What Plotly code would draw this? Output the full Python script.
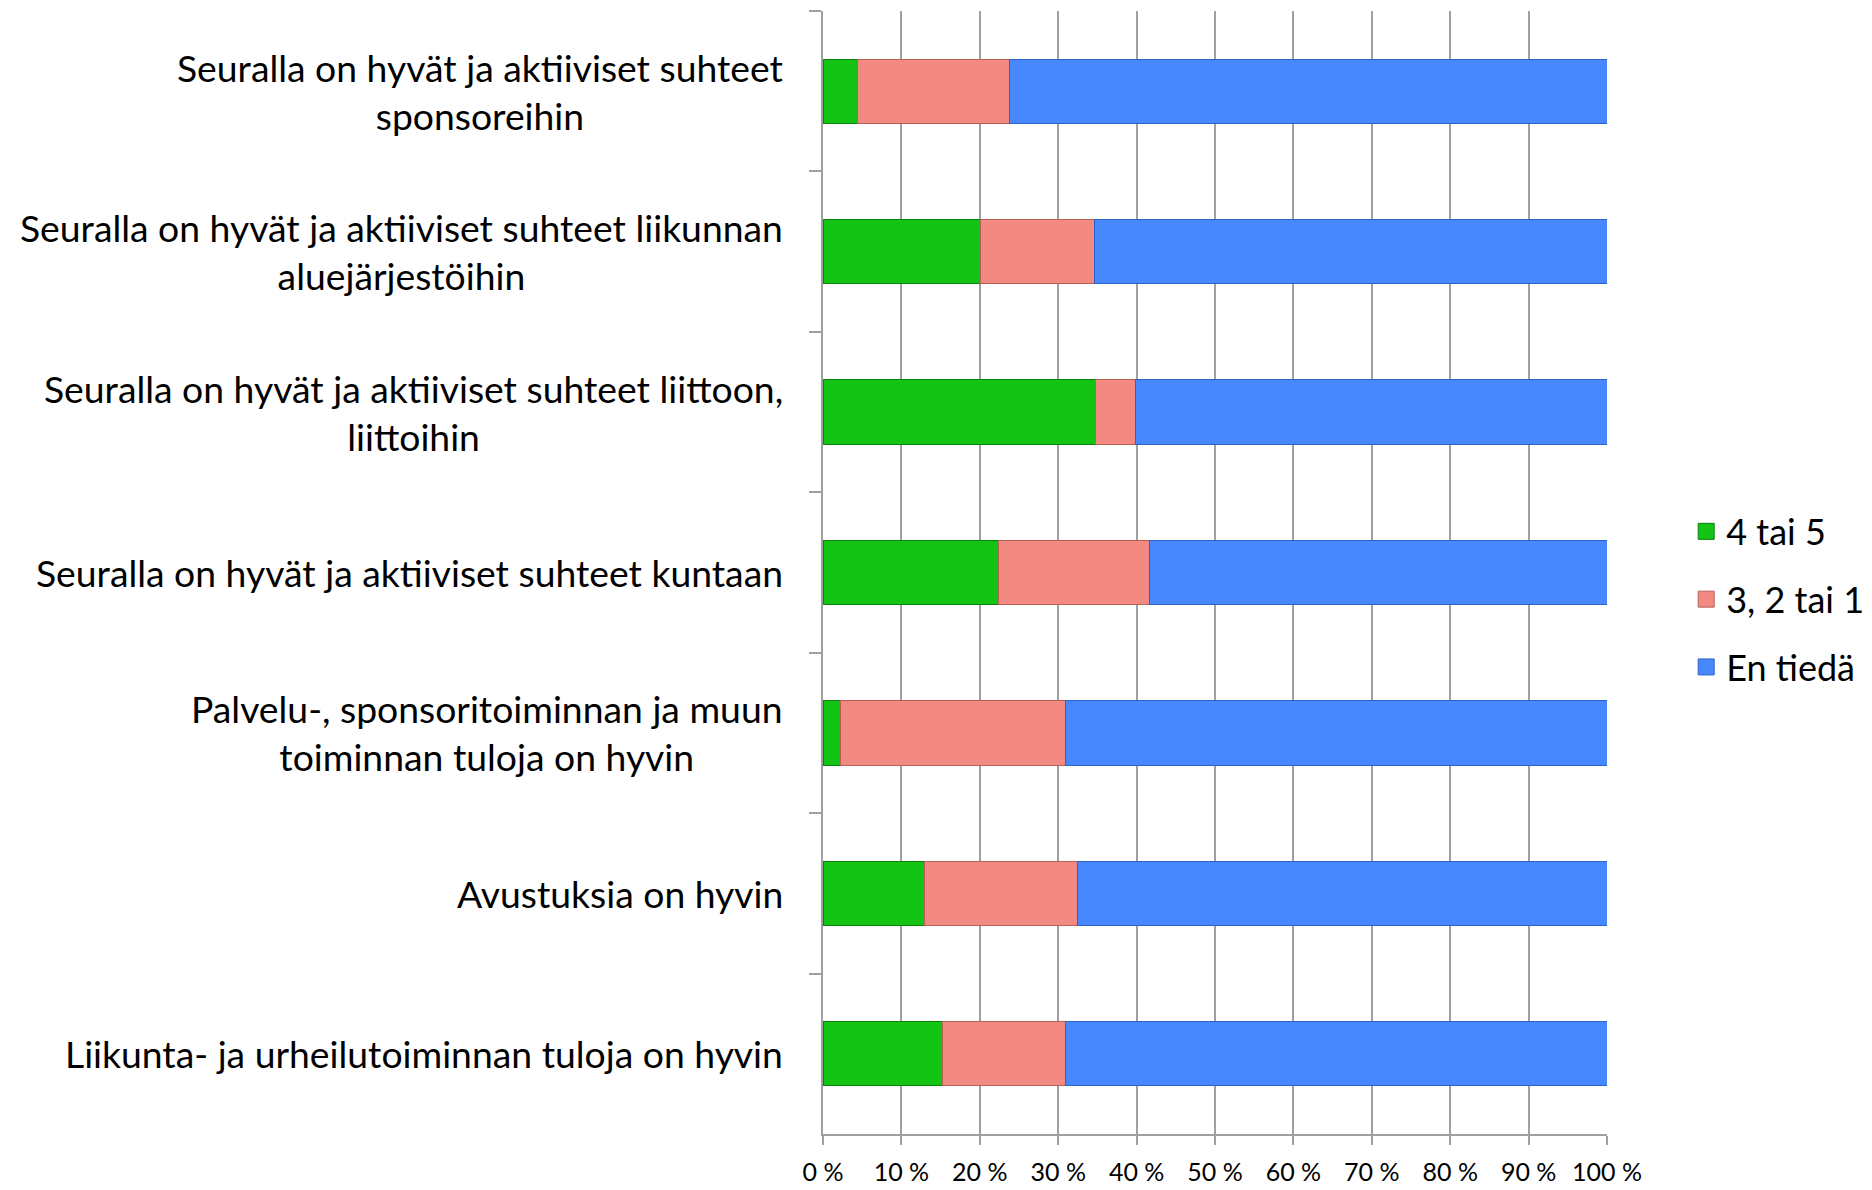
import plotly.graph_objects as go

categories = [
    "Seuralla on hyvät ja aktiiviset suhteet<br>sponsoreihin",
    "Seuralla on hyvät ja aktiiviset suhteet liikunnan<br>aluejärjestöihin",
    "Seuralla on hyvät ja aktiiviset suhteet liittoon,<br>liittoihin",
    "Seuralla on hyvät ja aktiiviset suhteet kuntaan",
    "Palvelu-, sponsoritoiminnan ja muun<br>toiminnan tuloja on hyvin",
    "Avustuksia on hyvin",
    "Liikunta- ja urheilutoiminnan tuloja on hyvin",
]
series_names = ["4 tai 5", "3, 2 tai 1", "En tiedä"]
good = [4.4, 20.1, 34.8, 22.4, 2.2, 13.0, 15.3]
weak = [19.4, 14.5, 5.0, 19.3, 28.7, 19.5, 15.6]
dont_know = [76.2, 65.4, 60.2, 58.3, 69.1, 67.5, 69.1]
x_ticks = [0, 10, 20, 30, 40, 50, 60, 70, 80, 90, 100]
x_tick_labels = ["0 %", "10 %", "20 %", "30 %", "40 %", "50 %",
                 "60 %", "70 %", "80 %", "90 %", "100 %"]

colors = ["#14C414", "#F28A82", "#4888FF"]
borders = ["#0B800B", "#B86058", "#2E62C8"]
FONT = "Lato"

fig = go.Figure()
for name, vals, c, b in zip(series_names, [good, weak, dont_know], colors, borders):
    fig.add_trace(go.Bar(
        y=categories, x=vals, orientation="h", name=name,
        marker=dict(color=c, line=dict(color=b, width=1)),
        width=0.4, showlegend=False,
    ))
    fig.add_trace(go.Scatter(
        x=[None], y=[None], mode="markers", name=name, legendgroup=name,
        marker=dict(symbol="square", size=22, color=c, line=dict(color=b, width=1)),
    ))

for cat in categories:
    fig.add_annotation(
        x=0, xref="paper", y=cat, yref="y", text=cat, showarrow=False,
        xanchor="right", yanchor="middle", align="center", xshift=-38,
        font=dict(family=FONT, size=37.3, color="#000000"),
    )

fig.update_layout(
    width=1864, height=1182,
    margin=dict(l=815, r=265, t=3, b=56, autoexpand=False),
    paper_bgcolor="white", plot_bgcolor="white",
    barmode="stack",
    font=dict(family=FONT, color="#000000"),
    legend=dict(
        x=1.101, xanchor="left", y=0.476, yanchor="middle",
        font=dict(family=FONT, size=36), traceorder="grouped",
        tracegroupgap=18, bgcolor="rgba(0,0,0,0)",
    ),
    xaxis=dict(
        range=[0, 100], tickmode="array", tickvals=x_ticks, ticktext=x_tick_labels,
        showgrid=True, gridcolor="#A0A0A0", gridwidth=1.5,
        showline=True, linecolor="#A0A0A0", linewidth=2,
        ticks="outside", ticklen=9, tickwidth=2, tickcolor="#A0A0A0",
        tickfont=dict(family=FONT, size=25), ticklabelstandoff=6,
        zeroline=False, fixedrange=True, automargin=False,
    ),
    yaxis=dict(
        type="category", categoryorder="array", categoryarray=categories,
        range=[6.5, -0.5], showticklabels=False,
        ticks="outside", ticklen=12, tickwidth=2, tickcolor="#A0A0A0",
        tickson="boundaries", showgrid=False, automargin=False,
        showline=True, linecolor="#A0A0A0", linewidth=2, fixedrange=True,
    ),
)

fig.write_html("out.html")
